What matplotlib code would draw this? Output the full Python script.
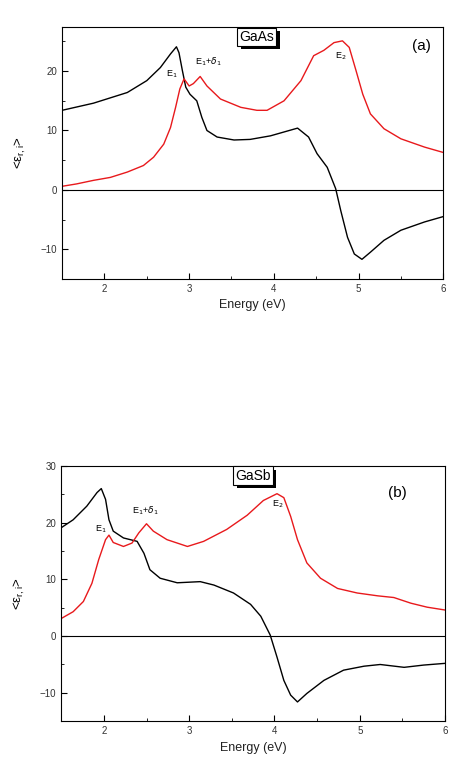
import matplotlib.pyplot as plt
from matplotlib.ticker import MultipleLocator
import matplotlib.patheffects as pe

plt.rcParams['font.family'] = ['Liberation Sans', 'DejaVu Sans']

# GaAs (a)
gaas_e_r = [1.5, 1.87, 2.27, 2.5, 2.66, 2.78, 2.85, 2.88, 2.92, 2.96, 3.01, 3.09, 3.15,
            3.21, 3.33, 3.53, 3.72, 3.96, 4.28, 4.41, 4.51, 4.63, 4.73, 4.79, 4.87, 4.95,
            5.04, 5.14, 5.3, 5.5, 5.78, 6.0]
gaas_eps_r = [13.4, 14.6, 16.4, 18.4, 20.6, 22.9, 24.1, 23.1, 20.1, 17.3, 16.1, 15.0, 12.2,
              10.0, 8.9, 8.4, 8.5, 9.1, 10.4, 8.9, 6.1, 3.8, 0.2, -3.5, -8.0, -10.8,
              -11.7, -10.5, -8.5, -6.8, -5.4, -4.5]
gaas_e_i = [1.5, 1.67, 1.87, 2.07, 2.27, 2.46, 2.58, 2.7, 2.78, 2.84, 2.89, 2.94, 3.0,
            3.05, 3.13, 3.21, 3.37, 3.61, 3.8, 3.92, 4.12, 4.32, 4.47, 4.59, 4.71, 4.81,
            4.89, 4.97, 5.05, 5.14, 5.3, 5.5, 5.78, 6.0]
gaas_eps_i = [0.6, 1.0, 1.6, 2.1, 3.0, 4.1, 5.5, 7.7, 10.5, 13.9, 17.0, 18.7, 17.5,
              17.9, 19.1, 17.5, 15.3, 13.9, 13.4, 13.4, 15.0, 18.4, 22.6, 23.5, 24.8, 25.1,
              24.0, 20.1, 16.1, 12.8, 10.3, 8.6, 7.2, 6.3]

# GaSb (b)
gasb_e_r = [1.5, 1.64, 1.8, 1.92, 1.97, 2.02, 2.06, 2.11, 2.23, 2.39, 2.47, 2.54, 2.66,
            2.86, 3.13, 3.29, 3.52, 3.72, 3.84, 3.95, 4.03, 4.11, 4.19, 4.27, 4.38, 4.58,
            4.81, 5.05, 5.24, 5.52, 5.75, 6.0]
gasb_eps_r = [19.1, 20.5, 22.9, 25.3, 26.0, 24.1, 20.5, 18.5, 17.3, 16.7, 14.6, 11.7, 10.2,
              9.4, 9.6, 9.0, 7.6, 5.6, 3.5, 0.2, -3.7, -7.8, -10.4, -11.6, -10.1, -7.8,
              -6.0, -5.3, -5.0, -5.5, -5.1, -4.8]
gasb_e_i = [1.5, 1.64, 1.76, 1.86, 1.94, 2.02, 2.06, 2.11, 2.23, 2.33, 2.41, 2.5, 2.58,
            2.74, 2.98, 3.17, 3.44, 3.68, 3.87, 4.03, 4.11, 4.19, 4.27, 4.38, 4.54, 4.74,
            4.97, 5.21, 5.4, 5.6, 5.79, 6.0]
gasb_eps_i = [3.1, 4.3, 6.1, 9.3, 13.5, 17.0, 17.8, 16.5, 15.8, 16.4, 18.2, 19.8, 18.5,
              17.0, 15.8, 16.7, 18.8, 21.3, 23.9, 25.1, 24.4, 21.1, 17.0, 12.9, 10.2, 8.4,
              7.6, 7.1, 6.8, 5.8, 5.1, 4.6]


def title_box(ax, x, y, txt):
    # white label box with a black drop shadow
    t = ax.text(x, y, txt, ha='center', va='center', fontsize=10, zorder=6,
                bbox=dict(boxstyle='square,pad=0.15', fc='white', ec='black', lw=0.8))
    t.get_bbox_patch().set_path_effects([
        pe.SimplePatchShadow(offset=(2.5, -2.5), shadow_rgbFace='black', alpha=1),
        pe.Normal()])


def setup_axes(ax, ylim):
    ax.set_xlim(1.5, 6)
    ax.set_ylim(*ylim)
    ax.xaxis.set_major_locator(MultipleLocator(1))
    ax.xaxis.set_minor_locator(MultipleLocator(0.5))
    ax.yaxis.set_major_locator(MultipleLocator(10))
    ax.yaxis.set_minor_locator(MultipleLocator(5))
    ax.tick_params(which='both', direction='in', top=False, right=False,
                   labelsize=7, labelcolor='#333333')
    ax.tick_params(which='major', length=4)
    ax.tick_params(which='minor', length=2.5)
    ax.axhline(0, color='black', lw=0.8)
    ax.set_xlabel('Energy (eV)', fontsize=9, color='#222222')
    ax.set_ylabel(r'<$\mathregular{\epsilon_{r,i}}$>', fontsize=9.5, labelpad=9)


fig = plt.figure(figsize=(4.5, 7.6), dpi=100)
ax1 = fig.add_axes([0.138, 0.633, 0.847, 0.332])
ax2 = fig.add_axes([0.136, 0.051, 0.853, 0.336])

ax1.plot(gaas_e_r, gaas_eps_r, color='black', lw=1)
ax1.plot(gaas_e_i, gaas_eps_i, color='#e8191c', lw=1)
setup_axes(ax1, (-15, 27.5))
title_box(ax1, 3.8, 25.8, 'GaAs')
ax1.text(5.85, 24.2, '(a)', ha='right', va='center', fontsize=11)
ax1.text(2.8, 19.5, r'E$_1$', ha='center', va='center', fontsize=6.5)
ax1.text(3.23, 21.6, r'E$_1$+$\delta_1$', ha='center', va='center', fontsize=6.5)
ax1.text(4.79, 22.5, r'E$_2$', ha='center', va='center', fontsize=6.5)

ax2.plot(gasb_e_r, gasb_eps_r, color='black', lw=1)
ax2.plot(gasb_e_i, gasb_eps_i, color='#e8191c', lw=1)
setup_axes(ax2, (-15, 30))
title_box(ax2, 3.75, 28.3, 'GaSb')
ax2.text(5.55, 25.3, '(b)', ha='right', va='center', fontsize=11)
ax2.text(1.96, 18.9, r'E$_1$', ha='center', va='center', fontsize=6.5)
ax2.text(2.49, 22.1, r'E$_1$+$\delta_1$', ha='center', va='center', fontsize=6.5)
ax2.text(4.04, 23.2, r'E$_2$', ha='center', va='center', fontsize=6.5)

fig.savefig('out.png', dpi=100)
